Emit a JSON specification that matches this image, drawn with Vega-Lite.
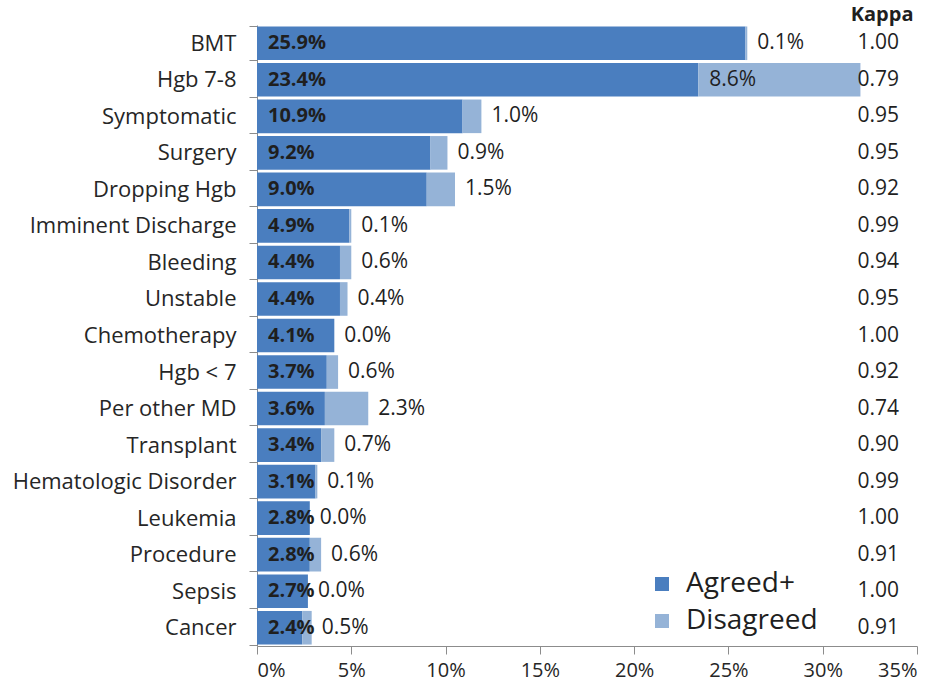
{
  "$schema": "https://vega.github.io/schema/vega-lite/v6.json",
  "width": 660,
  "height": 621,
  "autosize": {"type": "none"},
  "padding": {"left": 257, "top": 25, "right": 23, "bottom": 44},
  "background": "white",
  "config": {
    "view": {"stroke": null},
    "font": "Open Sans",
    "axis": {"labelColor": "#262626", "labelFont": "Open Sans", "domainColor": "#8c8c8c", "tickColor": "#8c8c8c"},
    "text": {"font": "Open Sans", "color": "#1f1f1f", "fontSize": 21}
  },
  "data": {
    "values": [
      {"cat": "BMT", "agreed": 0.259, "disagreed": 0.001, "kappa": 1.00},
      {"cat": "Hgb 7-8", "agreed": 0.234, "disagreed": 0.086, "kappa": 0.79},
      {"cat": "Symptomatic", "agreed": 0.109, "disagreed": 0.010, "kappa": 0.95},
      {"cat": "Surgery", "agreed": 0.092, "disagreed": 0.009, "kappa": 0.95},
      {"cat": "Dropping Hgb", "agreed": 0.090, "disagreed": 0.015, "kappa": 0.92},
      {"cat": "Imminent Discharge", "agreed": 0.049, "disagreed": 0.001, "kappa": 0.99},
      {"cat": "Bleeding", "agreed": 0.044, "disagreed": 0.006, "kappa": 0.94},
      {"cat": "Unstable", "agreed": 0.044, "disagreed": 0.004, "kappa": 0.95},
      {"cat": "Chemotherapy", "agreed": 0.041, "disagreed": 0.000, "kappa": 1.00},
      {"cat": "Hgb < 7", "agreed": 0.037, "disagreed": 0.006, "kappa": 0.92},
      {"cat": "Per other MD", "agreed": 0.036, "disagreed": 0.023, "kappa": 0.74},
      {"cat": "Transplant", "agreed": 0.034, "disagreed": 0.007, "kappa": 0.90},
      {"cat": "Hematologic Disorder", "agreed": 0.031, "disagreed": 0.001, "kappa": 0.99},
      {"cat": "Leukemia", "agreed": 0.028, "disagreed": 0.000, "kappa": 1.00},
      {"cat": "Procedure", "agreed": 0.028, "disagreed": 0.006, "kappa": 0.91},
      {"cat": "Sepsis", "agreed": 0.027, "disagreed": 0.000, "kappa": 1.00},
      {"cat": "Cancer", "agreed": 0.024, "disagreed": 0.005, "kappa": 0.91}
    ]
  },
  "encoding": {
    "y": {
      "field": "cat",
      "type": "nominal",
      "sort": null,
      "scale": {"paddingInner": 0.08, "paddingOuter": 0.04},
      "axis": {
        "title": null,
        "labelFontSize": 22,
        "labelPadding": 13,
        "tickSize": 8,
        "tickBand": "extent",
        "labelLimit": 400
      }
    }
  },
  "layer": [
    {
      "transform": [{"fold": ["agreed", "disagreed"], "as": ["type", "value"]}],
      "mark": {"type": "bar"},
      "encoding": {
        "x": {
          "field": "value",
          "type": "quantitative",
          "stack": "zero",
          "scale": {"domain": [0, 0.35], "nice": false},
          "axis": {
            "title": null,
            "format": "%",
            "values": [0, 0.05, 0.1, 0.15, 0.2, 0.25, 0.3, 0.35],
            "grid": false,
            "labelFontSize": 20,
            "tickSize": 8,
            "labelPadding": 6
          }
        },
        "color": {
          "field": "type",
          "type": "nominal",
          "scale": {"domain": ["agreed", "disagreed"], "range": ["#4a7ebf", "#95b3d7"]},
          "legend": {
            "title": null,
            "orient": "none",
            "legendX": 391,
            "legendY": 545,
            "symbolType": "square",
            "symbolSize": 196,
            "symbolStrokeWidth": 0,
            "labelFontSize": 28,
            "labelColor": "#1f1f1f",
            "labelOffset": 10,
            "rowPadding": 9,
            "labelExpr": "datum.label == 'agreed' ? 'Agreed+' : 'Disagreed'"
          }
        },
        "order": {"field": "type", "sort": "ascending"}
      }
    },
    {
      "mark": {"type": "text", "align": "left", "baseline": "middle", "dx": 11, "fontWeight": "bold", "fontSize": 20},
      "encoding": {
        "x": {"datum": 0, "type": "quantitative"},
        "text": {"field": "agreed", "type": "quantitative", "format": ".1%"}
      }
    },
    {
      "transform": [
        {"fold": ["agreed", "disagreed"], "as": ["type", "value"]},
        {"joinaggregate": [{"op": "sum", "field": "value", "as": "total"}], "groupby": ["cat"]},
        {"filter": "datum.type == 'disagreed' && datum.cat != 'Hgb 7-8'"}
      ],
      "mark": {"type": "text", "align": "left", "baseline": "middle", "dx": 10},
      "encoding": {
        "x": {"field": "total", "type": "quantitative"},
        "text": {"field": "value", "type": "quantitative", "format": ".1%"}
      }
    },
    {
      "transform": [{"filter": "datum.cat == 'Hgb 7-8'"}],
      "mark": {"type": "text", "align": "left", "baseline": "middle", "dx": 11},
      "encoding": {
        "x": {"field": "agreed", "type": "quantitative"},
        "text": {"field": "disagreed", "type": "quantitative", "format": ".1%"}
      }
    },
    {
      "mark": {"type": "text", "align": "center", "baseline": "middle"},
      "encoding": {
        "x": {"datum": 0.3295, "type": "quantitative"},
        "text": {"field": "kappa", "type": "quantitative", "format": ".2f"}
      }
    },
    {
      "data": {"values": [{"cat": "BMT", "label": "Kappa"}]},
      "mark": {"type": "text", "align": "center", "baseline": "middle", "dy": -28, "fontWeight": "bold", "fontSize": 20},
      "encoding": {
        "x": {"datum": 0.3315, "type": "quantitative"},
        "text": {"field": "label", "type": "nominal"}
      }
    }
  ]
}
